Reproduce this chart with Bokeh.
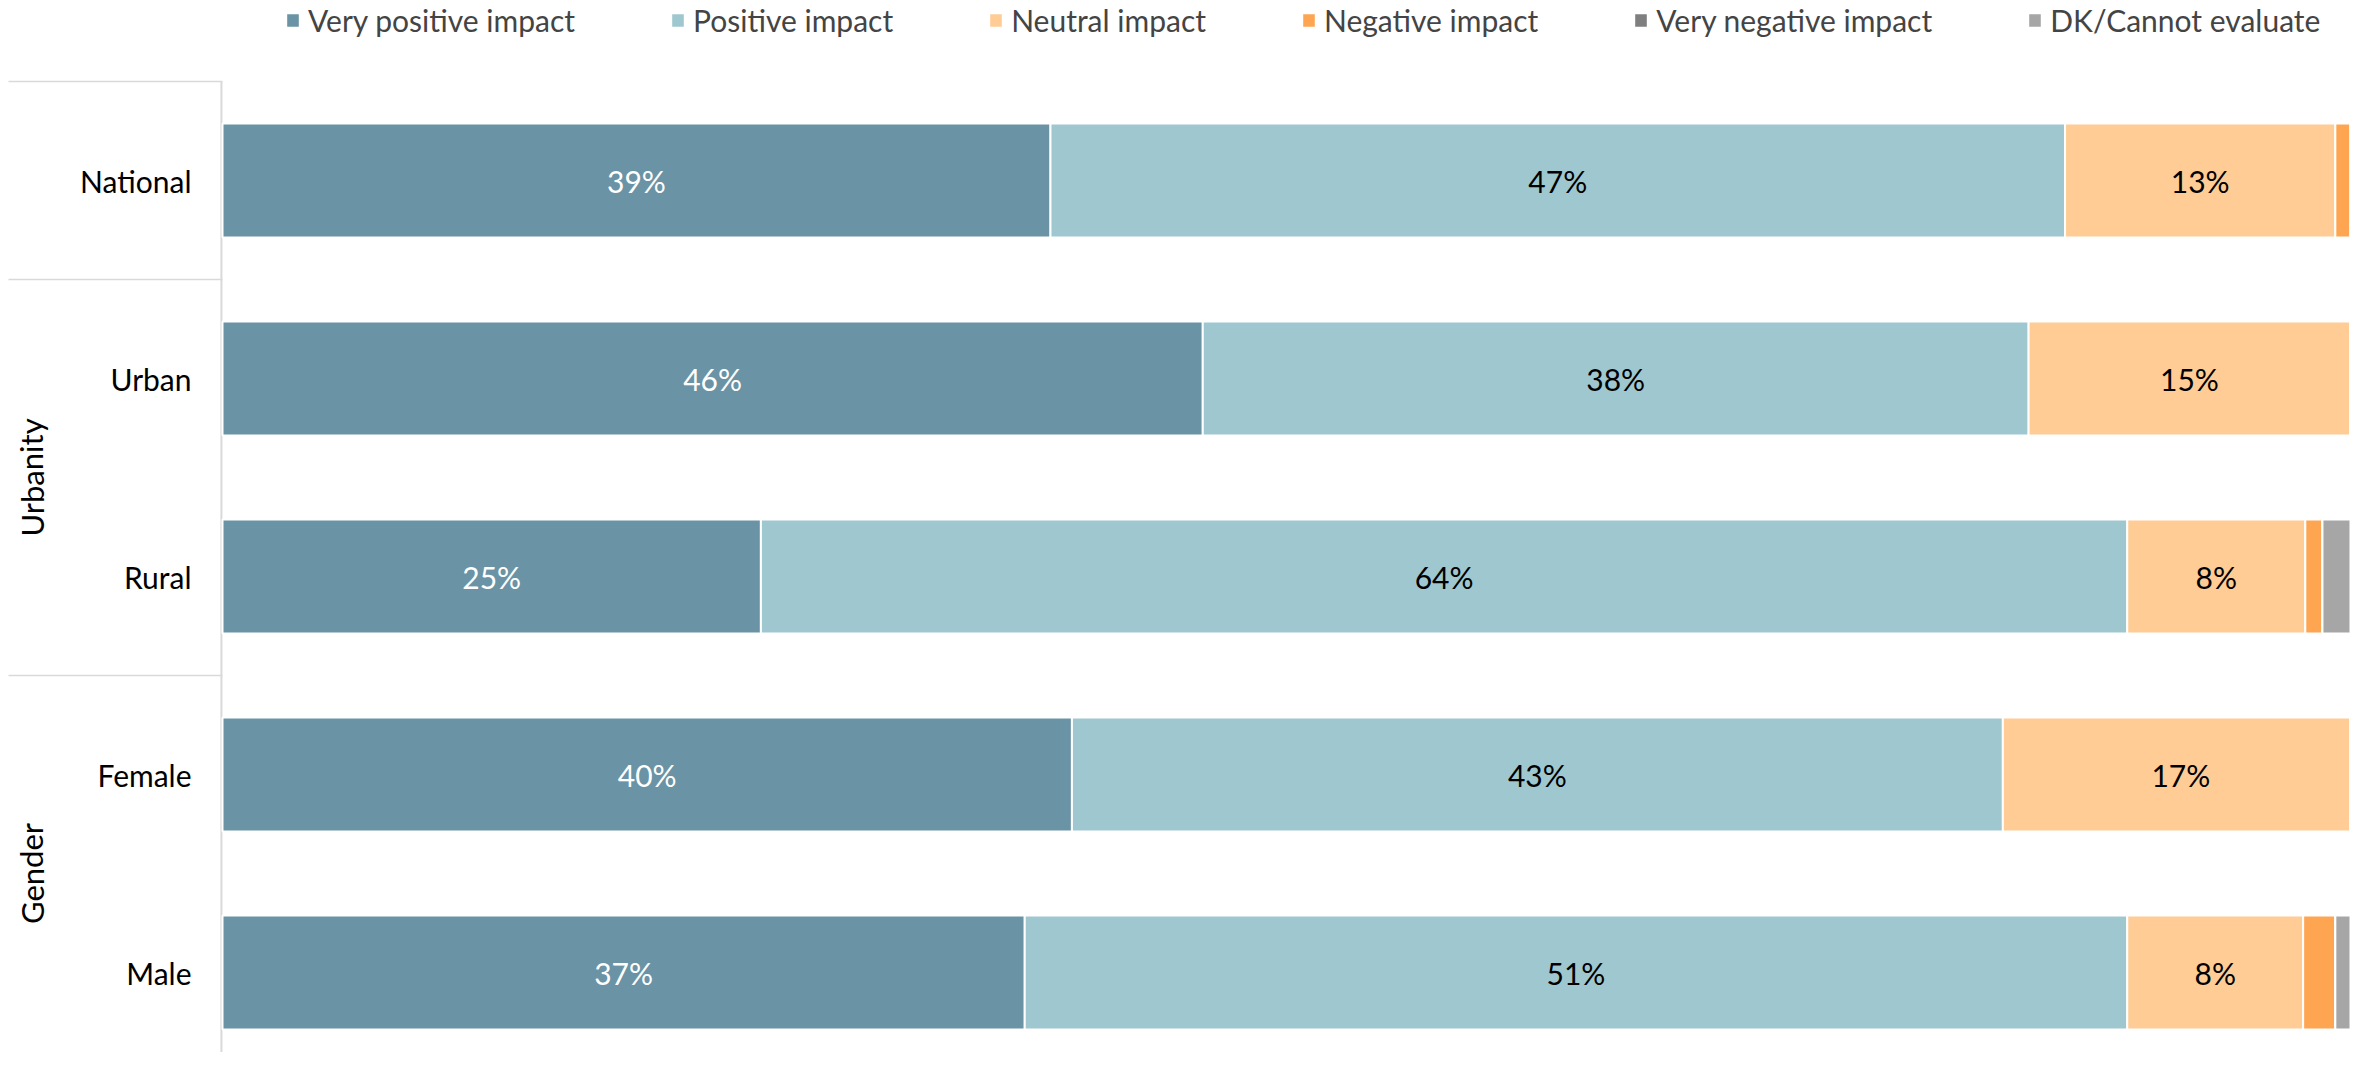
from bokeh.plotting import figure
from bokeh.models import Range1d, ColumnDataSource
from bokeh.core.properties import value
from bokeh.embed import file_html
from bokeh.resources import INLINE

# ---------------- data ----------------
categories = ["National", "Urban", "Rural", "Female", "Male"]
groups = ["", "Urbanity", "Urbanity", "Gender", "Gender"]
series_names = ["Very positive impact", "Positive impact", "Neutral impact",
                "Negative impact", "Very negative impact", "DK/Cannot evaluate"]
very_positive = [38.6, 45.7, 25.1, 39.6, 37.4]
positive = [47.3, 38.5, 63.7, 43.4, 51.4]
neutral = [12.6, 15.0, 8.3, 16.6, 8.2]
negative = [0.8, 0.8, 0.8, 0.4, 1.5]
very_negative = [0.0, 0.0, 0.0, 0.0, 0.0]
dk_cannot = [0.7, 0.0, 2.1, 0.0, 1.5]

# ---------------- style / layout ----------------
colors = ["#6A93A5", "#9FC7D0", "#FECC94", "#FEA552", "#7F7F7F", "#A6A6A6"]
label_colors = ["white", "black", "black"]
FONT = "Lato"
FIG_W, FIG_H = 2350, 1052
X0_PX = 222          # figure px where 0 % sits
PX_PER_PCT = 21.45
ROW0_PX = 180        # figure px of first row centre
ROW_PX = 198
BAR_H = 114 / ROW_PX
GRID = "#D9D9D9"

def px_to_x(px):
    return (px - X0_PX) / PX_PER_PCT

x_range = Range1d(px_to_x(0), px_to_x(FIG_W))
y_range = Range1d(start=(FIG_H - ROW0_PX) / ROW_PX, end=-ROW0_PX / ROW_PX)

p = figure(width=FIG_W, height=FIG_H, x_range=x_range, y_range=y_range,
           output_backend="svg", toolbar_location=None,
           x_axis_type=None, y_axis_type=None, min_border=0,
           outline_line_color=None)
p.xgrid.visible = False
p.ygrid.visible = False

rows = list(range(len(categories)))
series = [very_positive, positive, neutral, negative, very_negative, dk_cannot]
keys = ["vp", "p", "n", "neg", "vneg", "dk"]
src = ColumnDataSource(dict(row=rows, **{k: v for k, v in zip(keys, series)}))

# separators and axis line (drawn before bars)
bounds = [-0.5] + [i - 0.5 for i in range(1, len(groups)) if groups[i] != groups[i - 1]]
p.segment(x0=[px_to_x(8)] * len(bounds), x1=[0] * len(bounds), y0=bounds, y1=bounds,
          line_color=GRID, line_width=1.5)
p.segment(x0=[-0.05], x1=[-0.05], y0=[-0.5], y1=[y_range.start],
          line_color=GRID, line_width=2)

p.hbar_stack(keys, y="row", height=BAR_H, color=colors, line_color="white",
             line_width=2, source=src, legend_label=series_names)

# data labels
lx, ly, lt, lc = [], [], [], []
for r in rows:
    cum = 0.0
    for si, s in enumerate(series):
        v = s[r]
        if si < 3 and v >= 3:
            lx.append(cum + v / 2)
            ly.append(r)
            lt.append(f"{round(v)}%")
            lc.append(label_colors[si])
        cum += v
p.text(x=lx, y=ly, text=lt, text_color=lc, text_font=value(FONT),
       text_font_size="30px", text_align="center", text_baseline="middle")

# category labels
p.text(x=[px_to_x(X0_PX - 31)] * len(categories), y=rows, text=categories,
       text_color="black", text_font=value(FONT), text_font_size="30px",
       text_align="right", text_baseline="middle")

# group labels
gnames, gpos = [], []
for g in dict.fromkeys(groups):
    if g:
        idx = [i for i, gg in enumerate(groups) if gg == g]
        gnames.append(g)
        gpos.append(sum(idx) / len(idx))
p.text(x=[px_to_x(31)] * len(gnames), y=gpos, text=gnames, angle=1.5708,
       text_color="black", text_font=value(FONT), text_font_size="31px",
       text_align="center", text_baseline="middle")

# legend
lg = p.legend[0]
lg.orientation = "horizontal"
lg.location = (284, FIG_H - 38)
lg.glyph_width = 17
lg.glyph_height = 18
lg.label_text_font = FONT
lg.label_text_font_size = "30px"
lg.label_standoff = 7
lg.spacing = 94
lg.padding = 0
lg.margin = 0
lg.border_line_color = None
lg.background_fill_alpha = 0

open("out.html", "w").write(file_html(p, INLINE))
